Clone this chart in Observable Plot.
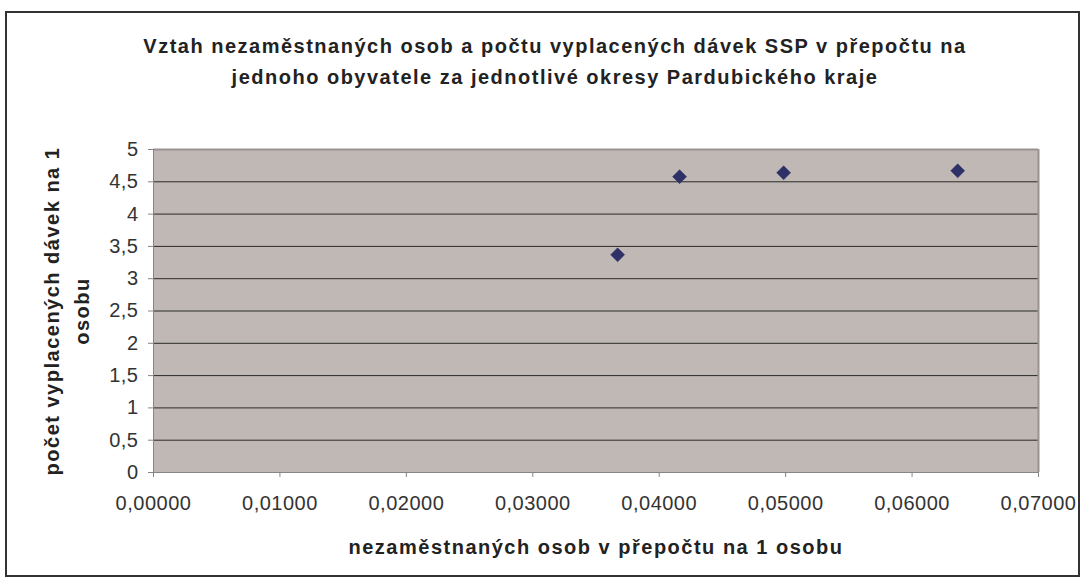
<!DOCTYPE html>
<html><head><meta charset="utf-8">
<script src="https://cdn.jsdelivr.net/npm/d3@7"></script>
<script src="https://cdn.jsdelivr.net/npm/@observablehq/plot@0.6"></script>
<style>
body{margin:0;background:#fff;}
#chart{position:relative;width:1085px;height:582px;font-family:"Liberation Sans",Arial,sans-serif;overflow:hidden;}
#chart svg{position:absolute;left:0;top:0;}
#chart svg text{letter-spacing:0.5px;}
.frame{position:absolute;left:5px;top:11px;width:1075px;height:566px;border:2px solid #333;box-sizing:border-box;}
.title{position:absolute;left:105px;top:31px;width:900px;text-align:center;font-weight:bold;font-size:20px;line-height:31px;letter-spacing:1.5px;color:#222;}
.ytitle{position:absolute;left:-133px;top:281px;width:400px;height:60px;text-align:center;font-weight:bold;font-size:20px;line-height:30px;letter-spacing:1.5px;color:#222;transform:rotate(-90deg);}
.xtitle{position:absolute;left:296px;top:532px;width:600px;text-align:center;font-weight:bold;font-size:20px;line-height:30px;letter-spacing:1.5px;color:#222;}
</style></head><body><div id="chart"></div>
<script>
const unemployed = [0.03671, 0.04161, 0.04984, 0.06361];
const benefits = [3.37, 4.58, 4.64, 4.67];
const xTicks = [0, 0.01, 0.02, 0.03, 0.04, 0.05, 0.06, 0.07];
const yTicks = [0, 0.5, 1, 1.5, 2, 2.5, 3, 3.5, 4, 4.5, 5];
const titleLines = ["Vztah nezaměstnaných osob a počtu vyplacených dávek SSP v přepočtu na", "jednoho obyvatele za jednotlivé okresy Pardubického kraje"];
const yTitleLines = ["počet vyplacených dávek na 1", "osobu"];
const xTitle = "nezaměstnaných osob v přepočtu na 1 osobu";

const data = unemployed.map((x, i) => ({x, y: benefits[i]}));

const plot = Plot.plot({
  width: 1085, height: 582,
  marginLeft: 153, marginRight: 47, marginTop: 149, marginBottom: 110,
  style: {fontFamily: '"Liberation Sans", Arial, sans-serif', fontSize: "20px", color: "#333", background: "transparent"},
  x: {domain: [0, 0.07]},
  y: {domain: [0, 5]},
  marks: [
    Plot.frame({fill: "#c0b8b5", stroke: null}),
    Plot.ruleY(yTicks.filter(d => d > 0 && d < 5), {stroke: "#2a2a2a", strokeWidth: 1}),
    Plot.ruleY([5], {stroke: "#9a9292", strokeWidth: 2}),
    Plot.ruleX([0.07], {stroke: "#9a9292", strokeWidth: 2}),
    Plot.ruleX([0], {stroke: "#8a8585", strokeWidth: 1}),
    Plot.ruleY([0], {stroke: "#8a8585", strokeWidth: 1}),
    Plot.axisX(xTicks, {tickFormat: d => d.toFixed(5).replace(".", ","), tickSize: 5, tickPadding: 18, stroke: "#8a8585", fill: "#333", label: null}),
    Plot.axisY(yTicks, {tickFormat: d => String(d).replace(".", ","), tickSize: 5, tickPadding: 10, stroke: "#8a8585", fill: "#333", label: null}),
    Plot.dot(data, {x: "x", y: "y", symbol: "diamond2", r: 6.3, fill: "#2e3068", stroke: "#2e3068", strokeWidth: 0.5})
  ]
});

const chart = document.getElementById("chart");
const frame = document.createElement("div"); frame.className = "frame"; chart.appendChild(frame);
chart.appendChild(plot);
const t = document.createElement("div"); t.className = "title"; t.innerHTML = titleLines.join("<br>"); chart.appendChild(t);
const yt = document.createElement("div"); yt.className = "ytitle"; yt.innerHTML = yTitleLines.join("<br>"); chart.appendChild(yt);
const xt = document.createElement("div"); xt.className = "xtitle"; xt.textContent = xTitle; chart.appendChild(xt);
</script></body></html>
